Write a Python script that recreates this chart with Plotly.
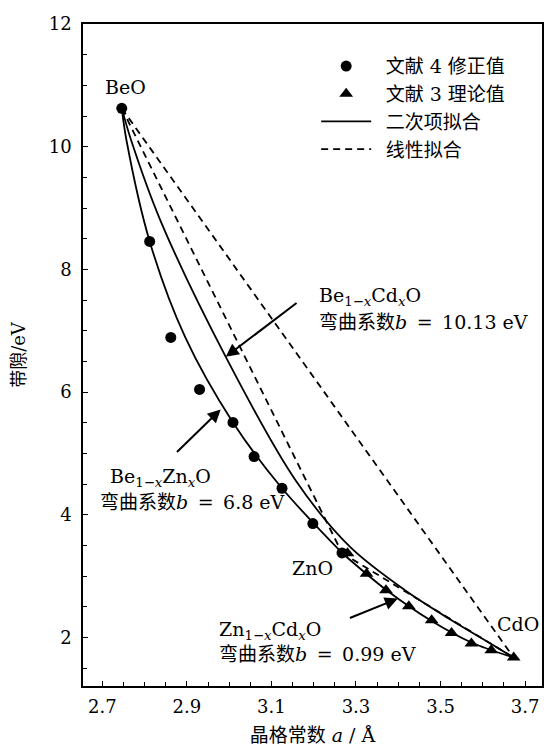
import plotly.graph_objects as go

# ---- data ----
# 文献4修正值 (circles)
lit4_a = [2.746, 2.812, 2.862, 2.930, 3.009, 3.059, 3.125, 3.198, 3.267]
lit4_e = [10.625, 8.457, 6.892, 6.044, 5.506, 4.951, 4.434, 3.859, 3.379]
# 文献3理论值 (triangles)
lit3_a = [3.280, 3.325, 3.371, 3.425, 3.479, 3.526, 3.573, 3.620, 3.673]
lit3_e = [3.375, 3.040, 2.771, 2.510, 2.282, 2.075, 1.902, 1.793, 1.674]

# quadratic fits
bezno_a = [2.746, 2.757, 2.812, 2.896, 3.009, 3.125, 3.267]
bezno_e = [10.625, 10.109, 8.457, 6.896, 5.506, 4.434, 3.379]
becdo_a = [2.746, 2.768, 2.837, 2.992, 3.157, 3.286, 3.416, 3.526, 3.620, 3.673]
becdo_e = [10.625, 10.109, 8.805, 6.575, 4.565, 3.477, 2.771, 2.282, 1.895, 1.674]
zncdo_a = [3.267, 3.371, 3.479, 3.573, 3.673]
zncdo_e = [3.379, 2.780, 2.270, 1.920, 1.674]

# linear fits: endpoints BeO, ZnO, CdO
end_names = ["BeO", "ZnO", "CdO"]
end_a = [2.746, 3.267, 3.673]
end_e = [10.625, 3.379, 1.674]

x_ticks = [2.7, 2.9, 3.1, 3.3, 3.5, 3.7]
y_ticks = [2, 4, 6, 8, 10, 12]

SERIF = "DejaVu Serif, Noto Sans CJK SC"
FS = 18
LW = 1.8
E = "\u2002"

fig = go.Figure()

fig.add_trace(go.Scatter(
    x=lit4_a, y=lit4_e, mode="markers", name=E + "文献 4 修正值", legendgroup="g1",
    marker=dict(symbol="circle", size=11, color="black"), legendrank=1))
fig.add_trace(go.Scatter(
    x=lit3_a, y=lit3_e, mode="markers", name=E + "文献 3 理论值", legendgroup="g2",
    marker=dict(symbol="triangle-up", size=12, color="black"), legendrank=2))

# solid quadratic fits
for k, (xa, ye) in enumerate([(bezno_a, bezno_e), (becdo_a, becdo_e), (zncdo_a, zncdo_e)]):
    fig.add_trace(go.Scatter(
        x=xa, y=ye, mode="lines", line=dict(color="black", width=LW, shape="spline", smoothing=0.9),
        name=E + "二次项拟合", legendgroup="g3", showlegend=(k == 0), legendrank=3))

# dashed linear fits
lin_pairs = [(0, 1), (0, 2), (1, 2)]
for k, (i, j) in enumerate(lin_pairs):
    fig.add_trace(go.Scatter(
        x=[end_a[i], end_a[j]], y=[end_e[i], end_e[j]], mode="lines",
        line=dict(color="black", width=LW, dash="7px,5px"),
        name=E + "线性拟合", legendgroup="g4", showlegend=(k == 0), legendrank=4))

font = dict(family=SERIF, size=FS, color="black")
afont = dict(family=SERIF, size=19, color="black")
anns = []
def txt(x, y, t, xanchor="center"):
    anns.append(dict(x=x, y=y, xref="x", yref="y", text=t, showarrow=False,
                     xanchor=xanchor, yanchor="middle", font=afont))

txt(2.754, 10.98, "BeO")
txt(3.198, 3.13, "ZnO")
txt(3.683, 2.217, "CdO")
txt(3.207, 7.565, "Be<sub>1−<i>x</i></sub>Cd<sub><i>x</i></sub>O", "left")
txt(3.207, 7.141, f"弯曲系数<i>b</i>{E}={E}10.13 eV", "left")
txt(2.713, 4.606, "Be<sub>1−<i>x</i></sub>Zn<sub><i>x</i></sub>O", "left")
txt(2.690, 4.211, f"弯曲系数<i>b</i>{E}={E}6.8 eV", "left")
txt(2.972, 2.119, "Zn<sub>1−<i>x</i></sub>Cd<sub><i>x</i></sub>O", "left")
txt(2.972, 1.736, f"弯曲系数<i>b</i>{E}={E}0.99 eV", "left")

def arrow(x, y, ax, ay):
    anns.append(dict(x=x, y=y, ax=ax, ay=ay, xref="x", yref="y", axref="x", ayref="y",
                     text="", showarrow=True, arrowhead=2, arrowsize=1.3, arrowwidth=2,
                     arrowcolor="black"))

arrow(2.992, 6.575, 3.163, 7.472)
arrow(2.980, 5.718, 2.873, 5.0)
arrow(3.399, 2.636, 3.282, 2.310)

axis_common = dict(showline=True, linecolor="black", linewidth=1.5, mirror=True,
                   ticks="inside", ticklen=5, tickwidth=1.2, tickcolor="black",
                   showgrid=False, zeroline=False, tickfont=font)

fig.update_layout(
    width=546, height=756,
    margin=dict(l=83, r=2, t=24, b=70),
    paper_bgcolor="white", plot_bgcolor="white",
    font=font,
    xaxis=dict(range=[2.6543, 3.740], tickvals=x_ticks, ticktext=[f"{v:.1f}" for v in x_ticks],
               minor=dict(dtick=0.05, tick0=2.7, ticks="inside", ticklen=4, tickcolor="black"),
               title=dict(text="晶格常数 <i>a</i> / Å", font=dict(family=SERIF, size=19, color="black"),
                          standoff=12),
               ticklabelstandoff=4,
               **axis_common),
    yaxis=dict(range=[1.211, 12], tickvals=y_ticks,
               minor=dict(dtick=0.5, tick0=0, ticks="inside", ticklen=4, tickcolor="black"),
               title=dict(text="带隙/eV", font=dict(family=SERIF, size=18, color="black"), standoff=18),
               ticklabelstandoff=6,
               **axis_common),
    legend=dict(x=0.508, y=0.965, xanchor="left", yanchor="top", bgcolor="rgba(0,0,0,0)",
                font=dict(family=SERIF, size=19, color="black"), tracegroupgap=2,
                itemwidth=50, traceorder="normal"),
    annotations=anns,
    showlegend=True,
)

fig.write_html("out.html")
